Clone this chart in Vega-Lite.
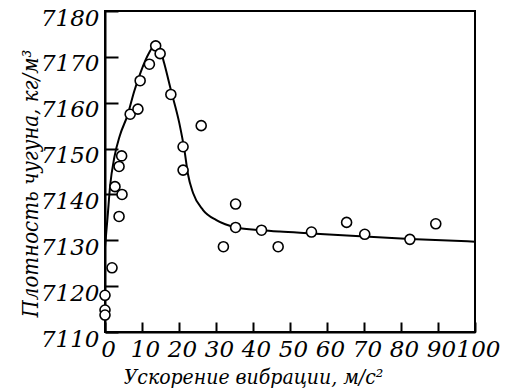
{
  "$schema": "https://vega.github.io/schema/vega-lite/v6.json",
  "autosize": "none",
  "width": 370,
  "height": 321,
  "padding": {"left": 105, "top": 11, "right": 32, "bottom": 60},
  "background": "white",
  "config": {
    "view": {"stroke": "black", "strokeWidth": 2},
    "font": "DejaVu Serif",
    "axis": {
      "domainColor": "black", "domainWidth": 2, "tickColor": "black", "tickWidth": 2,
      "grid": false, "labelFont": "DejaVu Serif", "labelFontStyle": "italic",
      "labelColor": "black", "labelFontSize": 23, "labelFlush": false, "labelOverlap": false,
      "titleFont": "DejaVu Serif Condensed", "titleFontStyle": "italic", "titleFontWeight": "normal",
      "titleColor": "black"
    }
  },
  "datasets": {
    "points": [
      {"x": 13.7, "y": 7172.4}, {"x": 14.9, "y": 7170.7}, {"x": 12.0, "y": 7168.4},
      {"x": 9.5, "y": 7164.8}, {"x": 17.8, "y": 7161.8}, {"x": 6.8, "y": 7157.5},
      {"x": 8.9, "y": 7158.6}, {"x": 26.0, "y": 7155.0}, {"x": 21.1, "y": 7150.4},
      {"x": 4.5, "y": 7148.4}, {"x": 3.8, "y": 7146.1}, {"x": 21.1, "y": 7145.3},
      {"x": 2.7, "y": 7141.7}, {"x": 4.6, "y": 7140.0}, {"x": 3.8, "y": 7135.2},
      {"x": 35.3, "y": 7137.9}, {"x": 35.3, "y": 7132.8}, {"x": 42.3, "y": 7132.2},
      {"x": 32.0, "y": 7128.6}, {"x": 46.8, "y": 7128.6}, {"x": 1.9, "y": 7124.0},
      {"x": 0.0, "y": 7118.0}, {"x": 0.0, "y": 7114.8}, {"x": 0.0, "y": 7113.7},
      {"x": 55.8, "y": 7131.8}, {"x": 65.3, "y": 7133.9}, {"x": 70.2, "y": 7131.3},
      {"x": 82.4, "y": 7130.2}, {"x": 89.4, "y": 7133.6}
    ],
    "curve": [
      {"x": 0.0, "y": 7128.5}, {"x": 0.7, "y": 7135.1}, {"x": 1.4, "y": 7142.0},
      {"x": 2.5, "y": 7148.0}, {"x": 4.0, "y": 7152.8}, {"x": 6.1, "y": 7157.3},
      {"x": 7.9, "y": 7162.5}, {"x": 9.7, "y": 7166.8}, {"x": 12.0, "y": 7171.0},
      {"x": 13.3, "y": 7172.6}, {"x": 13.9, "y": 7173.0}, {"x": 14.6, "y": 7172.4},
      {"x": 16.0, "y": 7168.6}, {"x": 17.8, "y": 7162.8}, {"x": 20.1, "y": 7155.5},
      {"x": 21.5, "y": 7149.5}, {"x": 22.4, "y": 7144.5}, {"x": 23.8, "y": 7140.3},
      {"x": 26.5, "y": 7136.6}, {"x": 30.1, "y": 7134.4}, {"x": 35.5, "y": 7132.8},
      {"x": 42.3, "y": 7132.2}, {"x": 47.2, "y": 7131.9}, {"x": 55.8, "y": 7131.5},
      {"x": 70.2, "y": 7130.8}, {"x": 82.4, "y": 7130.3}, {"x": 100.0, "y": 7129.7}
    ]
  },
  "encoding": {
    "x": {
      "field": "x", "type": "quantitative",
      "scale": {"domain": [0, 100], "nice": false, "zero": false},
      "axis": {
        "values": [0, 10, 20, 30, 40, 50, 60, 70, 80, 90, 100],
        "format": "d",
        "tickSize": -10, "labelPadding": 16, "labelOffset": 3,
        "title": "Ускорение вибрации, м/с²",
        "titleFontSize": 21,
        "titleX": 148, "titleY": 45, "titleBaseline": "middle", "titleAnchor": "middle", "titleAlign": "center"
      }
    },
    "y": {
      "field": "y", "type": "quantitative",
      "scale": {"domain": [7110, 7180], "nice": false, "zero": false},
      "axis": {
        "values": [7110, 7120, 7130, 7140, 7150, 7160, 7170, 7180],
        "format": "d",
        "tickSize": -13, "labelPadding": 19, "labelOffset": 7,
        "title": "Плотность чугуна, кг/м³",
        "titleFontSize": 22,
        "titleX": -75, "titleY": 172, "titleBaseline": "middle", "titleAnchor": "middle", "titleAlign": "center", "titleAngle": -90
      }
    }
  },
  "layer": [
    {
      "data": {"name": "curve"},
      "mark": {"type": "line", "color": "black", "strokeWidth": 2, "interpolate": "monotone"}
    },
    {
      "data": {"name": "points"},
      "mark": {"type": "point", "shape": "circle", "size": 100, "filled": false, "fill": "white", "fillOpacity": 1, "stroke": "black", "strokeWidth": 1.6, "opacity": 1}
    }
  ]
}
